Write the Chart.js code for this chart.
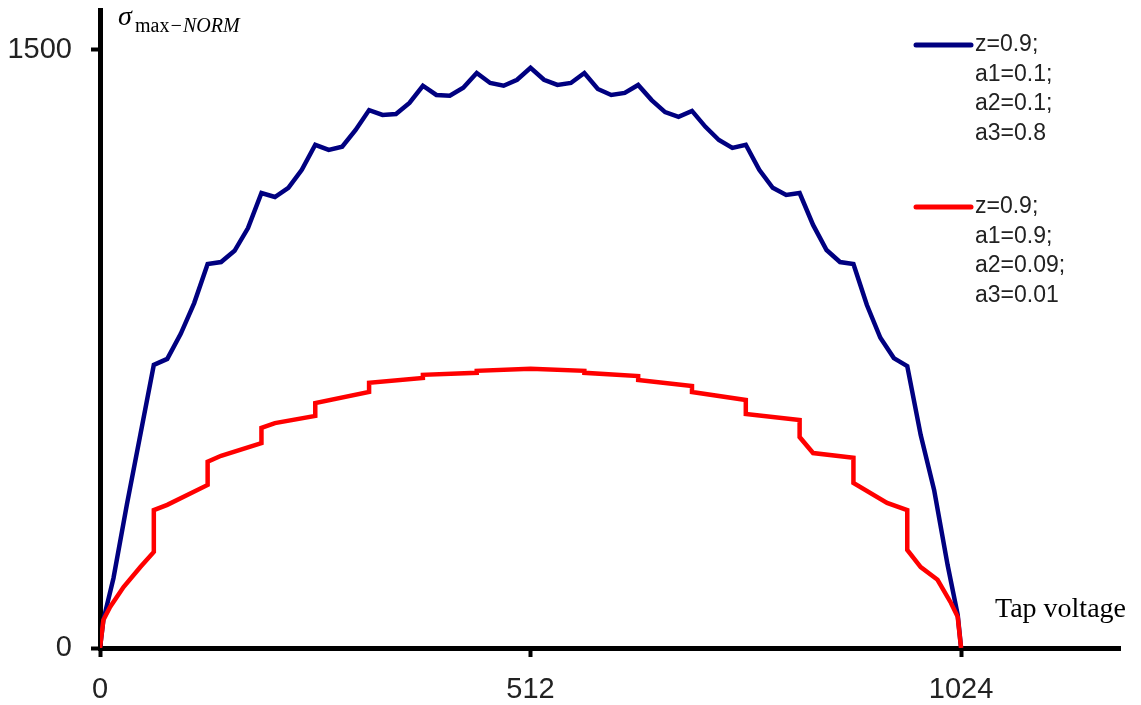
<!DOCTYPE html>
<html>
<head>
<meta charset="utf-8">
<script src="https://cdn.jsdelivr.net/npm/chart.js@4.4.1/dist/chart.umd.min.js"></script>
<style>
    html, body { margin: 0; padding: 0; background: #fff; }
    #chart { display: block; }
</style>
</head>
<body>
<canvas id="chart" width="1141" height="705"></canvas>
<script>
const xTicks = [0, 512, 1024];
const yTicks = [0, 1500];

const blueLabel = ['z=0.9;', 'a1=0.1;', 'a2=0.1;', 'a3=0.8'];
const redLabel = ['z=0.9;', 'a1=0.9;', 'a2=0.09;', 'a3=0.01'];

// blue curve: a1=0.1, a2=0.1, a3=0.8
const blueX = [0, 4, 16, 32, 48, 64, 80, 96, 112, 128, 144, 160, 176, 192, 208, 224, 240, 256,
    272, 288, 304, 320, 336, 352, 368, 384, 400, 416, 432, 448, 464, 480, 496, 512,
    528, 544, 560, 576, 592, 608, 624, 640, 656, 672, 688, 704, 720, 736, 752, 768,
    784, 800, 816, 832, 848, 864, 880, 896, 912, 928, 944, 960, 976, 992, 1008, 1020, 1024];
const blueY = [0, 70, 175, 360, 535, 710, 725, 788, 865, 963, 968, 996, 1053, 1141, 1131, 1154, 1199, 1262,
    1249, 1257, 1299, 1349, 1337, 1339, 1367, 1410, 1387, 1385, 1405, 1442, 1417, 1410, 1425, 1455,
    1425, 1412, 1417, 1442, 1402, 1387, 1392, 1412, 1374, 1344, 1332, 1347, 1307, 1274, 1254, 1262,
    1199, 1154, 1136, 1141, 1061, 998, 968, 963, 860, 778, 727, 707, 534, 396, 208, 83, 0];

// red curve: a1=0.9, a2=0.09, a3=0.01 (steps at every 64)
const redX = [0, 4, 12, 28, 48, 64, 64, 80, 128, 128, 144, 192, 192, 208, 256, 256, 320, 320, 384, 384,
    448, 448, 512, 576, 576, 640, 640, 704, 704, 768, 768, 832, 832, 848, 896, 896, 936, 960, 960,
    976, 996, 1012, 1020, 1024];
const redY = [0, 70, 103, 153, 203, 241, 346, 359, 409, 467, 482, 514, 552, 564, 582, 614, 642, 665, 677, 685,
    690, 695, 700, 695, 690, 682, 672, 657, 642, 622, 587, 572, 529, 489, 477, 414, 364, 346, 246,
    203, 171, 113, 78, 0];

const SANS = '"Liberation Sans", Arial, sans-serif';
const SERIF = '"Liberation Serif", "Times New Roman", serif';

const toPoints = (xs, ys) => xs.map((x, i) => ({ x: x, y: ys[i] }));

const decorations = {
    id: 'decorations',
    afterDraw(chart) {
        const ctx = chart.ctx;
        ctx.save();

        // y axis title
        ctx.fillStyle = '#000';
        ctx.textBaseline = 'alphabetic';
        ctx.textAlign = 'left';
        ctx.font = 'italic 28px ' + SERIF;
        ctx.fillText('σ', 118, 25);
        ctx.font = '20px ' + SERIF;
        ctx.fillText('max', 135, 32);
        let x = 135 + ctx.measureText('max').width;
        ctx.font = 'italic 20px ' + SERIF;
        ctx.fillText('−NORM', x, 32);

        // x axis title
        ctx.font = '28px ' + SERIF;
        ctx.fillText('Tap voltage', 995, 617);

        // legend
        const rows = [45, 207];
        chart.data.datasets.slice().reverse().forEach((ds, k) => {
            const y0 = rows[k];
            ctx.strokeStyle = ds.borderColor;
            ctx.lineWidth = 5;
            ctx.lineCap = 'round';
            ctx.beginPath();
            ctx.moveTo(916, y0);
            ctx.lineTo(971, y0);
            ctx.stroke();
            ctx.fillStyle = '#222';
            ctx.font = '23px ' + SANS;
            ctx.textBaseline = 'middle';
            ds.label.forEach((t, i) => ctx.fillText(t, 975, y0 + i * 29.5));
        });

        ctx.restore();
    }
};

new Chart(document.querySelector('#chart'), {
    type: 'line',
    data: {
        datasets: [
            {
                label: redLabel,
                data: toPoints(redX, redY),
                borderColor: '#ff0000',
                borderWidth: 4.5,
                pointRadius: 0,
                tension: 0
            },
            {
                label: blueLabel,
                data: toPoints(blueX, blueY),
                borderColor: '#000080',
                borderWidth: 4.5,
                pointRadius: 0,
                tension: 0
            }
        ]
    },
    options: {
        responsive: false,
        animation: false,
        devicePixelRatio: 1,
        layout: { padding: { top: 10, right: 21, left: 0, bottom: 0 } },
        plugins: {
            legend: { display: false },
            tooltip: { enabled: false }
        },
        scales: {
            x: {
                type: 'linear',
                min: 0,
                max: 1213,
                afterBuildTicks: s => { s.ticks = xTicks.map(v => ({ value: v })); },
                afterFit: s => { s.height = 57; s.paddingLeft = 0; s.paddingRight = 0; },
                grid: { display: true, drawOnChartArea: false, drawTicks: true, tickLength: 9, tickWidth: 4, color: '#000' },
                border: { display: true, color: '#000', width: 5 },
                ticks: { font: { family: SANS, size: 29 }, color: '#222', padding: 16, maxRotation: 0, autoSkip: false, callback: v => String(v) }
            },
            y: {
                min: 0,
                max: 1600,
                afterBuildTicks: s => { s.ticks = yTicks.map(v => ({ value: v })); },
                afterFit: s => { s.width = 100; s.paddingTop = 0; s.paddingBottom = 0; },
                grid: { display: true, drawOnChartArea: false, drawTicks: true, tickLength: 9, tickWidth: 4, color: '#000' },
                border: { display: true, color: '#000', width: 5 },
                ticks: { font: { family: SANS, size: 29 }, color: '#222', padding: 19, autoSkip: false, callback: v => String(v) }
            }
        }
    },
    plugins: [decorations]
});
</script>
</body>
</html>
